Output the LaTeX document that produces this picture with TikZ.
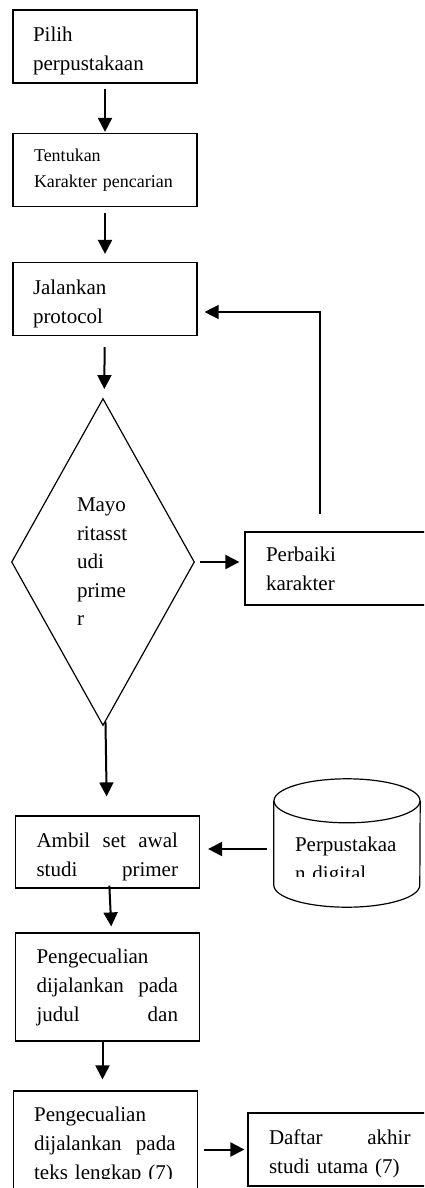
\documentclass[tikz,border=0pt]{standalone}
\usepackage{fontspec}
\setmainfont{Liberation Serif}
\usetikzlibrary{arrows.meta,positioning,shapes.geometric}
\newcommand{\spread}[2]{\leavevmode\hbox to #1{#2}}
\newcommand{\padtop}{\rule{0pt}{24pt}}

\begin{document}
\begin{tikzpicture}[
 x=1pt,y=-1pt,
 proc/.style={draw,line width=1.2pt,minimum width=184pt,minimum height=73pt,inner xsep=21pt,inner ysep=0pt,text width=142pt,align=left,font=\fontsize{21}{29}\selectfont},
 dec/.style={diamond,draw,line width=1.2pt,aspect=0.56,minimum width=183pt,minimum height=327pt,inner sep=0pt,text width=52pt,align=left,font=\fontsize{21}{28.5}\selectfont},
 frame/.style={draw,line width=1.2pt,minimum width=184pt,inner sep=0pt},
 teks/.style={inner xsep=21pt,inner ysep=0pt,text width=142pt,align=left,font=\fontsize{21}{29}\selectfont},
 arr/.style={-{Triangle[length=14pt,width=14pt]},line width=2pt}
]
\path[fill=white,use as bounding box] (0,0) rectangle (424,1188);
\clip (0,0) rectangle (424,1188);

\node[proc,inner xsep=20pt,text width=144pt] (pilih) at (105,46.5) {\padtop Pilih\\perpustakaan};
\node[proc,font=\fontsize{18}{26}\selectfont] (tentukan) at (105,170) {Tentukan\\Karakter pencarian};
\node[proc,inner xsep=20pt,text width=144pt] (jalankan) at (105,299) {\padtop Jalankan\\protocol};
\node[dec] (mayor) at (103,562) {Mayo\\ritasst\\udi\\prime\\r};
\node[proc] (perbaiki) at (337,568.5) {Perbaiki\\karakter};
\node[proc,minimum height=72pt] (ambil) at (107.5,852) {\spread{141.5pt}{\padtop Ambil\hfill set\hfill awal}\\\spread{141.5pt}{studi\hfill primer}};

% cylinder for the digital library
\node[minimum width=146pt,minimum height=128pt,inner sep=0pt] (pustaka) at (347,843) {};
\draw[line width=1.2pt] ([yshift=-22pt]pustaka.north west) -- ([yshift=22pt]pustaka.south west)
  arc[start angle=180,end angle=360,x radius=73pt,y radius=22pt] -- ([yshift=-22pt]pustaka.north east);
\draw[line width=1.2pt] ([yshift=-22pt]pustaka.north) ellipse[x radius=73pt,y radius=22pt];
\begin{scope}
\clip (pustaka.north west) rectangle ([yshift=31pt]pustaka.south east);
\node[teks,anchor=north west] (pustakateks) at ([yshift=-58pt]pustaka.north west) {Perpustakaa\\n digital};
\end{scope}

\node[proc,minimum height=108pt] (kecuali1) at (107.5,987) {Pengecualian\\\spread{141.5pt}{dijalankan\hfill pada}\\\spread{141.5pt}{judul\hfill dan}};

\node[frame,minimum height=110pt] (kecuali2) at (105.5,1146) {};
\begin{scope}
\clip (kecuali2.north west) rectangle ([yshift=23pt]kecuali2.south east);
\node[teks,anchor=north west] (kecuali2teks) at ([yshift=-16pt]kecuali2.north west) {Pengecualian\\\spread{141.5pt}{dijalankan\hfill pada}\\teks lengkap (7)};
\end{scope}

\node[proc] (daftar) at (340,1149.5) {\spread{141.5pt}{\padtop Daftar\hfill akhir}\\studi utama (7)};

\draw[arr,shorten <=5pt,shorten >=1pt] (pilih) -- (tentukan);
\draw[arr,shorten <=6pt,shorten >=8pt] (tentukan) -- (jalankan);
\draw[arr,shorten <=11pt,shorten >=11pt] (jalankan) -- (mayor);
\draw[arr,shorten >=19pt] (mayor) -- (ambil);
\draw[arr,shorten <=5pt,shorten >=5pt] (mayor.east) -- (mayor.east -| perbaiki.west);
\draw[arr,line width=1.5pt,shorten <=17pt,shorten >=7pt] ([xshift=-17pt]perbaiki.north) |- ([yshift=-13pt]jalankan.east);
\draw[arr,shorten <=7pt,shorten >=8pt] ([yshift=-6pt]pustaka.west) -- ([yshift=3pt]ambil.east);
\draw[arr,shorten <=-3pt,shorten >=6pt] ([xshift=2pt]ambil.south) -- ([xshift=4pt]kecuali1.north);
\draw[arr,shorten <=-1pt,shorten >=11pt] ([xshift=-5pt]kecuali1.south) -- ([xshift=-3pt]kecuali2.north);
\draw[arr,shorten <=6pt,shorten >=3pt] (daftar.west -| kecuali2.east) -- (daftar.west);
\end{tikzpicture}
\end{document}
